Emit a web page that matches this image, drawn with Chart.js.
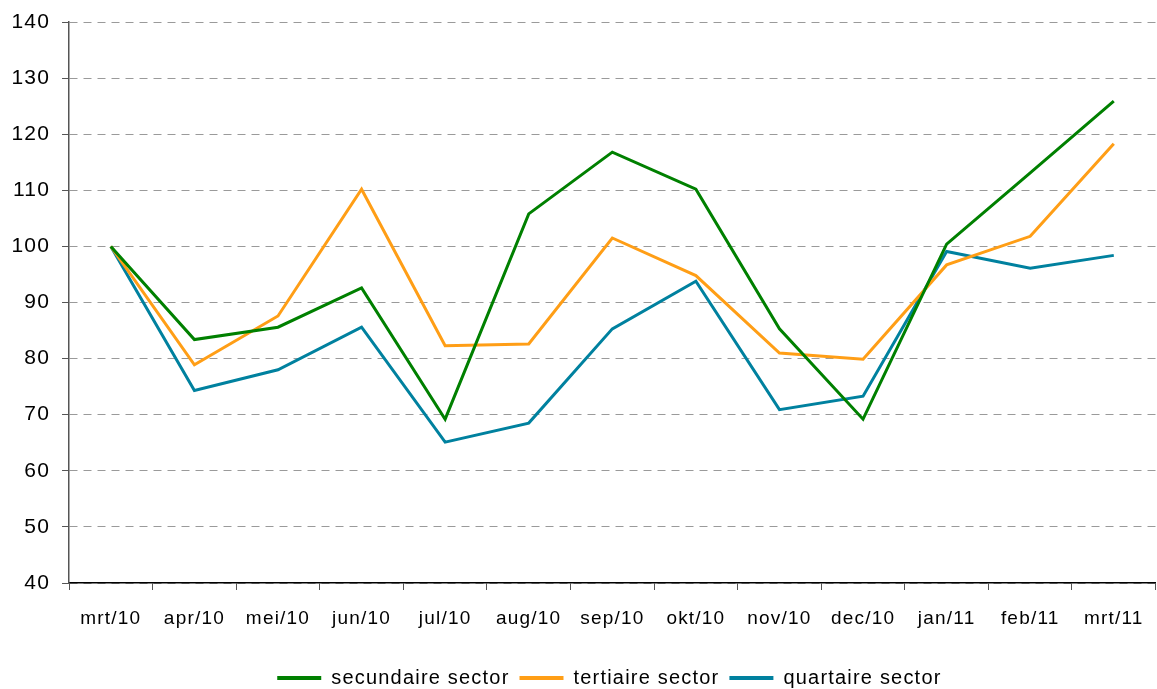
<!DOCTYPE html>
<html><head><meta charset="utf-8">
<script src="https://cdn.jsdelivr.net/npm/chart.js@4.4.0/dist/chart.umd.min.js"></script>
<style>html,body{margin:0;padding:0;background:#fff;overflow:hidden}#wrap{width:1157px;height:698px;position:relative}</style>
</head><body><div id="wrap"><canvas id="c"></canvas></div>
<script>
const categories = ["mrt/10","apr/10","mei/10","jun/10","jul/10","aug/10","sep/10","okt/10","nov/10","dec/10","jan/11","feb/11","mrt/11"];
const secundaire = [100, 83.4, 85.6, 92.6, 69.2, 105.8, 116.8, 110.2, 85.3, 69.2, 100.4, 113.1, 125.9];
const tertiaire  = [100, 78.9, 87.6, 110.2, 82.3, 82.6, 101.5, 94.8, 81.0, 79.9, 96.7, 101.8, 118.3];
const quartaire  = [100, 74.3, 78.0, 85.6, 65.1, 68.5, 85.3, 93.8, 70.9, 73.3, 99.1, 96.1, 98.4];
const seriesNames = ["secundaire sector","tertiaire sector","quartaire sector"];
const colors = ["#008000","#ff9e16","#00819f"];
const yTicks = [40,50,60,70,80,90,100,110,120,130,140];

const FONT = "'Liberation Sans', Arial, sans-serif";
const spacing = {
  id: 'spacing',
  beforeInit(chart) { chart.ctx.letterSpacing = '1.2px'; },
  beforeDraw(chart) { chart.ctx.letterSpacing = '1.2px'; }
};
const data = {
  labels: categories,
  datasets: [secundaire, tertiaire, quartaire].map((d,i)=>({
    label: seriesNames[i], data: d, borderColor: colors[i], backgroundColor: colors[i],
    borderWidth: 3, pointRadius: 0, tension: 0, fill: false
  }))
};
new Chart(document.getElementById('c'), {
  type: 'line',
  data,
  plugins: [spacing],
  options: {
    responsive: true, maintainAspectRatio: false, animation: false,
    layout: { padding: { top: 22, right: 0, left: 3, bottom: 0 } },
    plugins: {
      tooltip: { enabled: false },
      legend: {
        position: 'bottom',
        labels: {
          color: '#000', font: { family: FONT, size: 20 },
          boxWidth: 44, boxHeight: 4, padding: 10,
          generateLabels: (chart) => Chart.defaults.plugins.legend.labels.generateLabels(chart).map(l => ({...l, lineWidth: 0}))
        }
      }
    },
    scales: {
      x: {
        offset: true,
        afterFit: (s) => { s.height = 75; },
        grid: { offset: true, drawOnChartArea: false, tickLength: 7, tickColor: '#555' },
        border: { color: '#000', width: 1.5 },
        ticks: { color: '#000', font: { family: FONT, size: 19 }, padding: 17, maxRotation: 0, autoSkip: false }
      },
      y: {
        min: 40, max: 140,
        afterBuildTicks: (s) => { s.ticks = yTicks.map(v => ({ value: v })); },
        afterFit: (s) => { s.paddingTop = 0; s.paddingBottom = 0; },
        grid: { color: '#9a9a9a', lineWidth: 1, tickLength: 7, tickColor: '#555', tickBorderDash: [] },
        border: { color: '#555', width: 1.5, dash: [8, 6] },
        ticks: { color: '#000', font: { family: FONT, size: 21 }, padding: 12 }
      }
    }
  }
});
</script></body></html>
